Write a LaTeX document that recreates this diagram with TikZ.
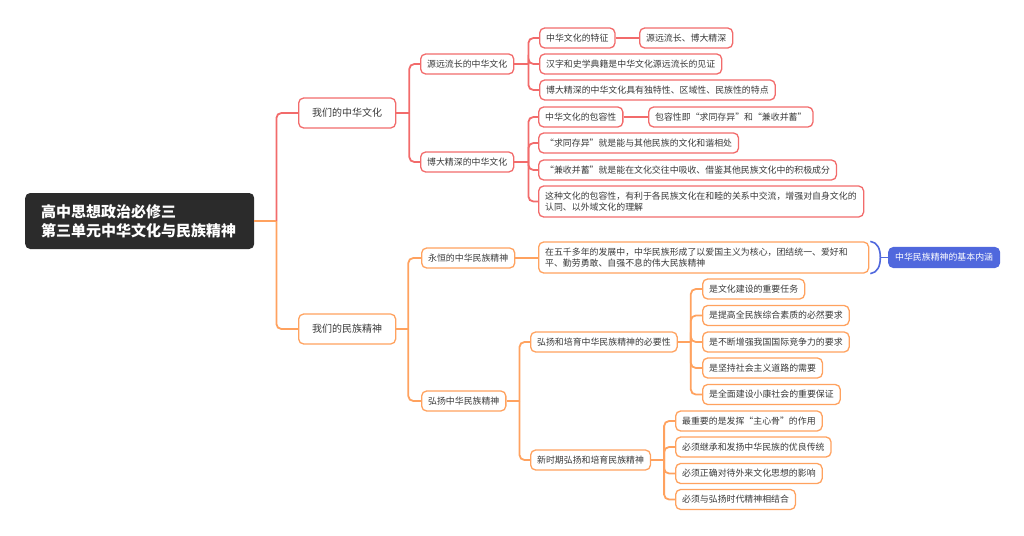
\documentclass[tikz,border=0pt]{standalone}
\usepackage{fontspec}
\setmainfont{Noto Sans CJK SC}
\usetikzlibrary{calc}
\definecolor{rc}{HTML}{F26B6B}
\definecolor{oc}{HTML}{FFA25F}
\definecolor{bc}{HTML}{5068DD}
\definecolor{tx}{HTML}{3A3A3A}
\definecolor{rootc}{HTML}{2B2B2B}
\begin{document}
\begin{tikzpicture}[x=1pt,y=-1pt,
 box/.style={draw, line width=1.3pt, rounded corners=5pt, fill=white, text=tx,
   font=\fontsize{8.9}{11.5}\selectfont, inner xsep=6.5pt, inner ysep=0pt,
   minimum height=20pt, anchor=west},
 rbox/.style={box, draw=rc},
 obox/.style={box, draw=oc},
 lone/.style={font=\fontsize{10}{12}\selectfont, minimum width=97pt, minimum height=30pt},
 rl/.style={draw=rc, line width=1.8pt, rounded corners=5pt},
 ol/.style={draw=oc, line width=1.8pt, rounded corners=5pt},
 bl/.style={draw=bc, line width=1.6pt},
]
\useasboundingbox (0,0) rectangle (1024,535);

% root
\node[fill=rootc, rounded corners=5pt, text=white, font=\fontsize{15}{19}\selectfont\bfseries,
  align=left, anchor=west, inner xsep=16pt, text width=197pt, minimum height=56pt] (R) at (25,221)
  {高中思想政治必修三\\第三单元中华文化与民族精神};

% level 1
\node[rbox, lone] (A1) at (298,113) {我们的中华文化};
\node[obox, lone] (A2) at (298,329) {我们的民族精神};

% level 2
\node[rbox] (B1) at (420,64) {源远流长的中华文化};
\node[rbox] (B2) at (420,162) {博大精深的中华文化};
\node[obox] (B3) at (421,258) {永恒的中华民族精神};
\node[obox] (B4) at (421,401) {弘扬中华民族精神};

% level 3 (culture)
\node[rbox] (C1) at (539,38) {中华文化的特征};
\node[rbox] (C1b) at (639,38) {源远流长、博大精深};
\node[rbox] (C2) at (539,64) {汉字和史学典籍是中华文化源远流长的见证};
\node[rbox] (C3) at (539,90) {博大精深的中华文化具有独特性、区域性、民族性的特点};
\node[rbox] (D1) at (538,117) {中华文化的包容性};
\node[rbox] (D1b) at (648,117) {包容性即“求同存异”和“兼收并蓄”};
\node[rbox] (D2) at (538,143) {“求同存异”就是能与其他民族的文化和谐相处};
\node[rbox] (D3) at (538,170) {“兼收并蓄”就是能在文化交往中吸收、借鉴其他民族文化中的积极成分};
\node[rbox, text width=312pt, align=left, minimum height=31pt] (D4) at (538,201.5)
  {这种文化的包容性，有利于各民族文化在和睦的关系中交流，增强对自身文化的\\认同、以外域文化的理解};

% level 3 (spirit)
\node[obox, text width=317pt, align=left, minimum height=31pt] (E1) at (538,257.5)
  {在五千多年的发展中，中华民族形成了以爱国主义为核心，团结统一、爱好和\\平、勤劳勇敢、自强不息的伟大民族精神};
\node[box, draw=bc, fill=bc, text=white] (F) at (888,257.5) {中华民族精神的基本内涵};

\node[obox] (G1) at (530,342) {弘扬和培育中华民族精神的必要性};
\node[obox] (G2) at (530,460) {新时期弘扬和培育民族精神};

\node[obox] (H1) at (702,289) {是文化建设的重要任务};
\node[obox] (H2) at (702,315.5) {是提高全民族综合素质的必然要求};
\node[obox] (H3) at (702,342) {是不断增强我国国际竞争力的要求};
\node[obox] (H4) at (702,368) {是坚持社会主义道路的需要};
\node[obox] (H5) at (702,394.5) {是全面建设小康社会的重要保证};

\node[obox] (I1) at (675,421) {最重要的是发挥“主心骨”的作用};
\node[obox] (I2) at (675,447) {必须继承和发扬中华民族的优良传统};
\node[obox] (I3) at (675,473.5) {必须正确对待外来文化思想的影响};
\node[obox] (I4) at (675,499.5) {必须与弘扬时代精神相结合};

% connectors: root
\coordinate (rt) at ($(R.east)+(22,0)$);
\draw[rl] (rt) |- (A1.west);
\draw[ol] (R.east) -- (rt);
\draw[ol] (rt) |- (A2.west);

% A1
\coordinate (a1t) at ($(A1.east)+(13,0)$);
\draw[rl] (A1.east) -- (a1t);
\draw[rl] (a1t) |- (B1.west);
\draw[rl] (a1t) |- (B2.west);

% B1
\coordinate (b1t) at ($(B1.east)+(14,0)$);
\draw[rl] (B1.east) -- (b1t);
\draw[rl] (b1t) |- (C1.west);
\draw[rl] (b1t) |- (C2.west);
\draw[rl] (b1t) |- (C3.west);
\draw[rl] (C1.east) -- (C1b.west);

% B2
\coordinate (b2t) at ($(B2.east)+(14,0)$);
\draw[rl] (B2.east) -- (b2t);
\draw[rl] (b2t) |- (D1.west);
\draw[rl] (b2t) |- (D2.west);
\draw[rl] (b2t) |- (D3.west);
\draw[rl] (b2t) |- (D4.west);
\draw[rl] (D1.east) -- (D1b.west);

% A2
\coordinate (a2t) at ($(A2.east)+(12,0)$);
\draw[ol] (A2.east) -- (a2t);
\draw[ol] (a2t) |- (B3.west);
\draw[ol] (a2t) |- (B4.west);

% B3
\draw[ol] (B3.east) -- (B3.east -| E1.west);

% brace
\coordinate (bt) at ($(E1.east)+(11,0)$);
\draw[bl] ($(E1.north east)+(1,0)$) .. controls +(7,1) and +(0,-9) .. (bt)
  .. controls +(0,9) and +(7,-1) .. ($(E1.south east)+(1,0)$);
\draw[bl] (bt) -- (F.west);

% B4
\coordinate (b4t) at ($(B4.east)+(13,0)$);
\draw[ol] (B4.east) -- (b4t);
\draw[ol] (b4t) |- (G1.west);
\draw[ol] (b4t) |- (G2.west);

% G1
\coordinate (g1t) at ($(G1.east)+(13,0)$);
\draw[ol] (G1.east) -- (g1t);
\foreach \n in {H1,H2,H3,H4,H5} \draw[ol] (g1t) |- (\n.west);

% G2
\coordinate (g2t) at ($(G2.east)+(13,0)$);
\draw[ol] (G2.east) -- (g2t);
\foreach \n in {I1,I2,I3,I4} \draw[ol] (g2t) |- (\n.west);

\end{tikzpicture}
\end{document}
